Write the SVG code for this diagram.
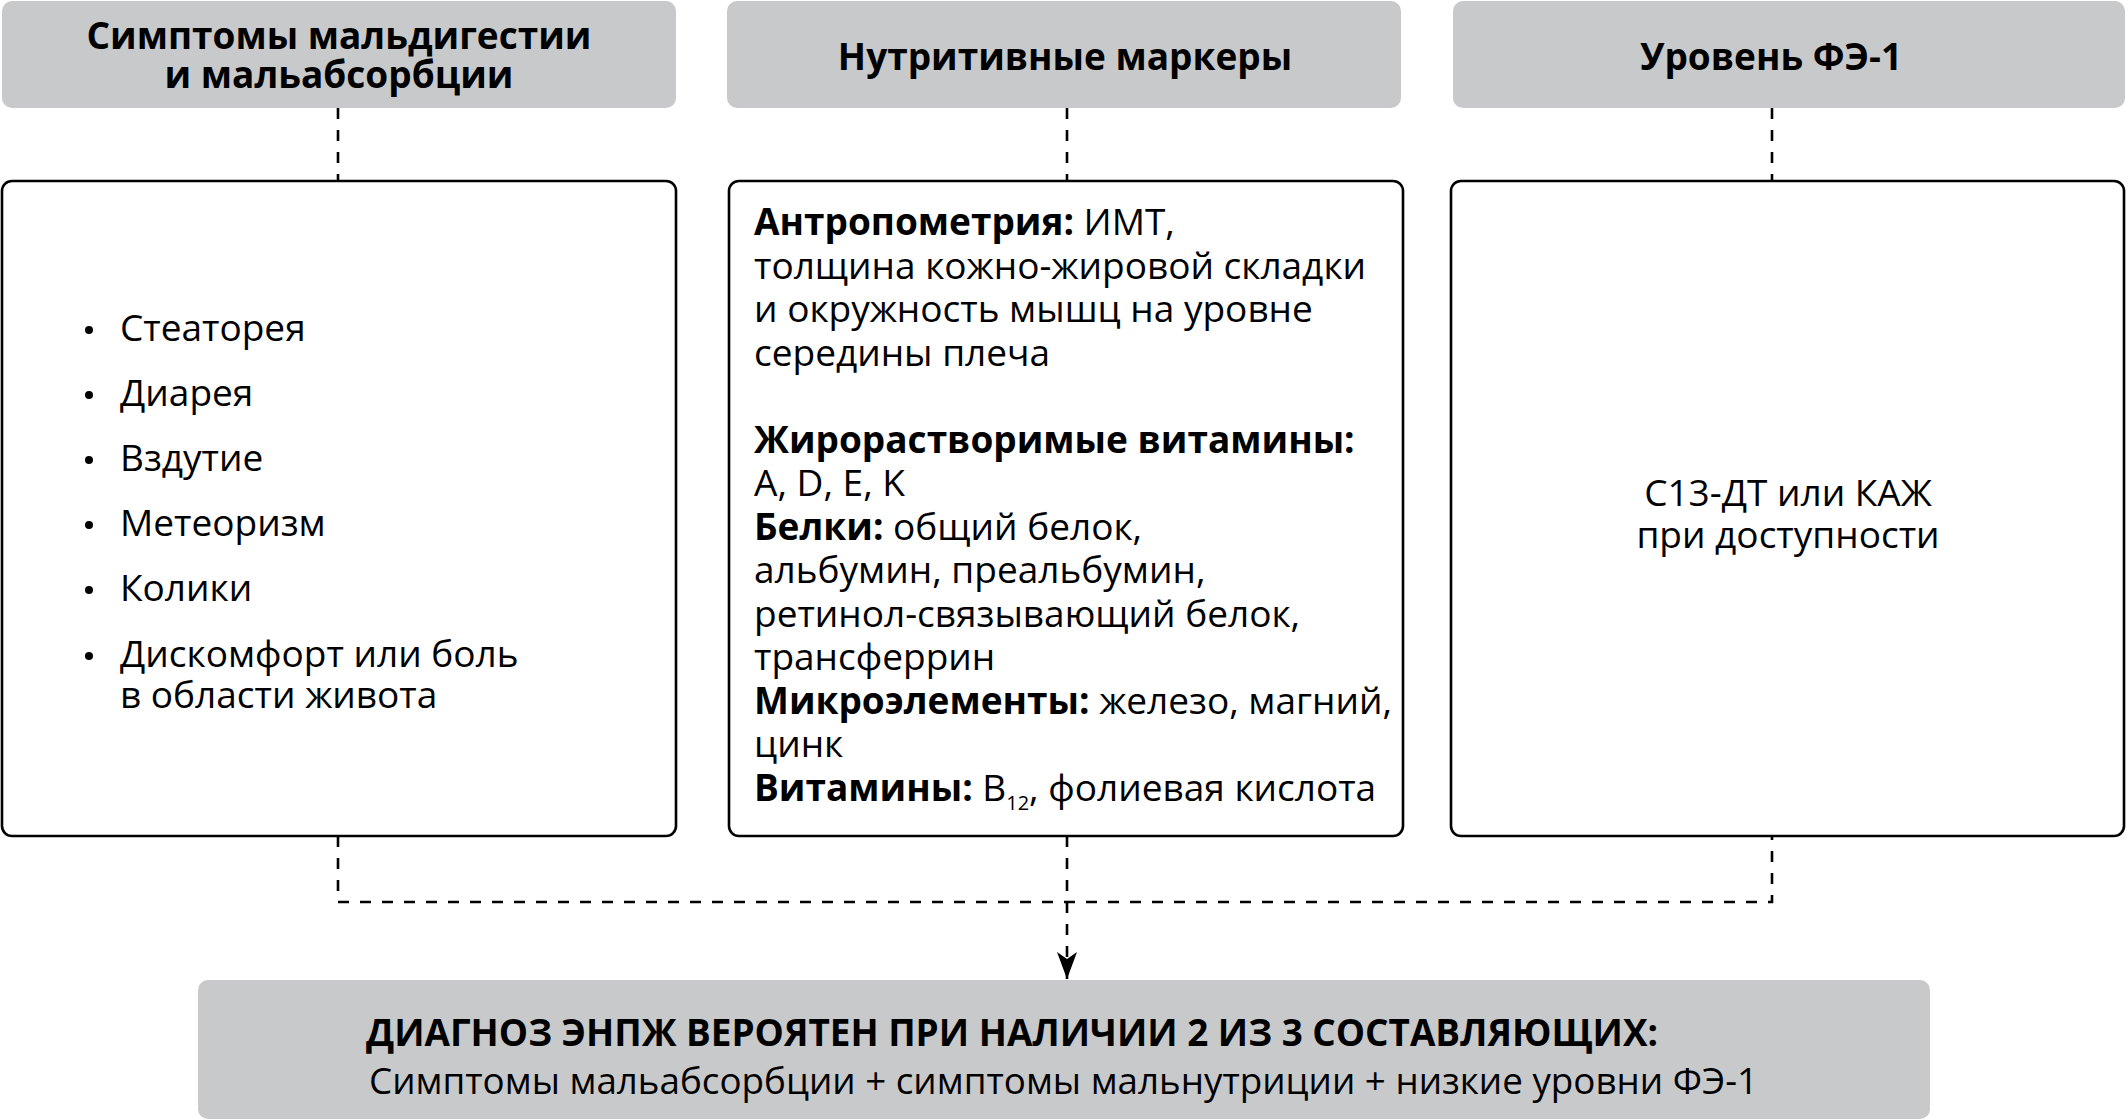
<svg xmlns="http://www.w3.org/2000/svg" width="2127" height="1120" viewBox="0 0 2127 1120">
<style>
.hdr{fill:#c8c9cb;stroke:none}
.box{fill:#ffffff;stroke:#000;stroke-width:2.6}
.ht{font-family:"Open Sans","Noto Sans",sans-serif;font-weight:bold;font-size:37px;fill:#000;text-anchor:middle}
.t{font-family:"Open Sans","Noto Sans",sans-serif;font-size:37px;fill:#000}
.b{font-weight:bold}
.dash{fill:none;stroke:#000;stroke-width:2.6;stroke-dasharray:11 11}
</style>
<defs>
<marker id="arr" viewBox="0 0 27 20" refX="27" refY="10" markerWidth="27" markerHeight="20" markerUnits="userSpaceOnUse" orient="auto">
<path d="M0,0 L27,10 L0,20 L7,10 z" fill="#000"/>
</marker>
</defs>
<g id="connectors">
<path class="dash" d="M338,108 V181"/>
<path class="dash" d="M1067,108 V181"/>
<path class="dash" d="M1772,108 V181"/>
<path class="dash" d="M338,836 V902 H1772 V836"/>
<path class="dash" d="M1067,836 V979" marker-end="url(#arr)"/>
</g>
<g id="header1">
<rect class="hdr" x="2" y="1" width="674" height="107" rx="10"/>
<text class="ht" x="339" y="49" font-size="35">Симптомы мальдигестии</text>
<text class="ht" x="339" y="88" font-size="35">и мальабсорбции</text>
</g>
<g id="header2">
<rect class="hdr" x="727" y="1" width="674" height="107" rx="10"/>
<text class="ht" x="1065" y="70">Нутритивные маркеры</text>
</g>
<g id="header3">
<rect class="hdr" x="1453" y="1" width="672" height="107" rx="10"/>
<text class="ht" x="1771" y="70">Уровень ФЭ-1</text>
</g>
<g id="box1">
<rect class="box" x="2" y="181" width="674" height="655" rx="10"/>
<g fill="#000">
<circle cx="89" cy="330" r="4"/>
<circle cx="89" cy="395" r="4"/>
<circle cx="89" cy="460" r="4"/>
<circle cx="89" cy="525" r="4"/>
<circle cx="89" cy="590" r="4"/>
<circle cx="89" cy="656" r="4"/>
</g>
<text class="t" x="120" y="341">Стеаторея</text>
<text class="t" x="120" y="406">Диарея</text>
<text class="t" x="120" y="471">Вздутие</text>
<text class="t" x="120" y="536">Метеоризм</text>
<text class="t" x="120" y="601">Колики</text>
<text class="t" x="120" y="667">Дискомфорт или боль</text>
<text class="t" x="120" y="708">в области живота</text>
</g>
<g id="box2">
<rect class="box" x="729" y="181" width="674" height="655" rx="10"/>
<text class="t" x="754" y="235"><tspan class="b">Антропометрия:</tspan> ИМТ,</text>
<text class="t" x="754" y="278.5">толщина кожно-жировой складки</text>
<text class="t" x="754" y="322">и окружность мышц на уровне</text>
<text class="t" x="754" y="365.5">середины плеча</text>
<text class="t" x="754" y="452.5"><tspan class="b">Жирорастворимые витамины:</tspan></text>
<text class="t" x="754" y="496">A, D, E, K</text>
<text class="t" x="754" y="539.5"><tspan class="b">Белки:</tspan> общий белок,</text>
<text class="t" x="754" y="583">альбумин, преальбумин,</text>
<text class="t" x="754" y="626.5">ретинол-связывающий белок,</text>
<text class="t" x="754" y="670">трансферрин</text>
<text class="t" x="754" y="713.5"><tspan class="b">Микроэлементы:</tspan> железо, магний,</text>
<text class="t" x="754" y="757">цинк</text>
<text class="t" x="754" y="800.5"><tspan class="b">Витамины:</tspan> B<tspan font-size="20" dy="9">12</tspan><tspan dy="-9">, фолиевая кислота</tspan></text>
</g>
<g id="box3">
<rect class="box" x="1451" y="181" width="673" height="655" rx="10"/>
<text class="t" x="1788" y="506" text-anchor="middle">С13-ДТ или КАЖ</text>
<text class="t" x="1788" y="548" text-anchor="middle">при доступности</text>
</g>
<g id="result">
<rect class="hdr" x="198" y="980" width="1732" height="139" rx="10"/>
<text class="t b" x="366" y="1046" font-size="33" textLength="1292" lengthAdjust="spacingAndGlyphs">ДИАГНОЗ ЭНПЖ ВЕРОЯТЕН ПРИ НАЛИЧИИ 2 ИЗ 3 СОСТАВЛЯЮЩИХ:</text>
<text class="t" x="369" y="1094" font-size="34" textLength="1389" lengthAdjust="spacingAndGlyphs">Симптомы мальабсорбции + симптомы мальнутриции + низкие уровни ФЭ-1</text>
</g>
</svg>
